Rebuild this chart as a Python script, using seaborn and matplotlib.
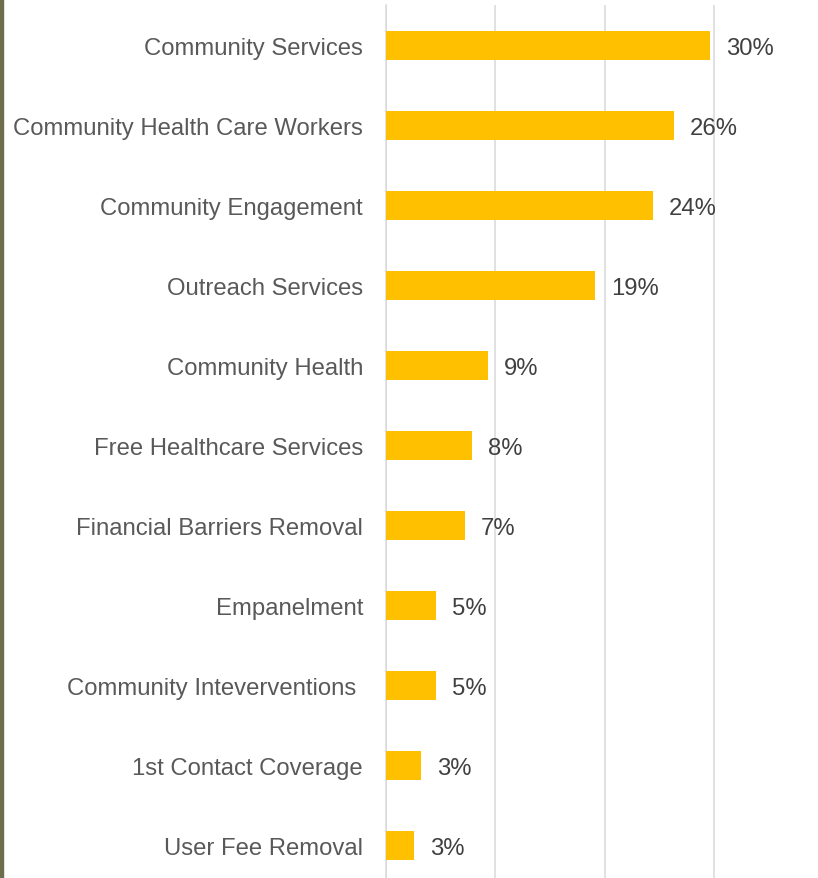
import matplotlib
matplotlib.use("Agg")
import matplotlib.pyplot as plt
from matplotlib.patches import Rectangle
import pandas as pd
import seaborn as sns

# Share of mentions per theme
categories = [
    "Community Services",
    "Community Health Care Workers",
    "Community Engagement",
    "Outreach Services",
    "Community Health",
    "Free Healthcare Services",
    "Financial Barriers Removal",
    "Empanelment",
    "Community Inteverventions ",
    "1st Contact Coverage",
    "User Fee Removal",
]
shares = [0.296, 0.263, 0.244, 0.191, 0.093, 0.079, 0.072, 0.046, 0.046, 0.032, 0.026]
gridline_ticks = [0.0, 0.1, 0.2, 0.3]

df = pd.DataFrame({"theme": categories, "share": shares})

sns.set_theme(style="white")
plt.rcParams["font.family"] = ["Liberation Sans", "DejaVu Sans"]

W, H = 818, 879
fig = plt.figure(figsize=(W / 100, H / 100), dpi=100)
ax = fig.add_axes([385.7 / W, 0.0, 1 - 385.7 / W, (H - 6) / H])

sns.barplot(data=df, y="theme", x="share", orient="h", color="#FFC000",
            saturation=1, width=0.3625, linewidth=0, ax=ax, zorder=3)

ax.set_xlim(0, (W - 385.7) / 1095)
ax.set_ylim(10.406, -0.506)
ax.set_xticks(gridline_ticks)
ax.set_xticklabels([])
ax.tick_params(axis="x", length=0)
ax.tick_params(axis="y", length=0, pad=16.3, labelsize=17.2, labelcolor="#595959")
ax.grid(axis="x", color="#d9d9d9", linewidth=1.1, zorder=0)
ax.grid(axis="y", visible=False)
ax.set_xlabel("")
ax.set_ylabel("")
for side in ("top", "right", "bottom"):
    ax.spines[side].set_visible(False)
ax.spines["left"].set_color("#d9d9d9")
ax.spines["left"].set_linewidth(1.1)

value_texts = ax.bar_label(ax.containers[0], labels=[f"{v:.0%}" for v in shares],
                           padding=11.5, fontsize=17.2, color="#404040")
for t in value_texts:
    t.set_va("center_baseline")

# Olive rule along the left edge
fig.patches.append(Rectangle((0, 0), 3 / W, 1, transform=fig.transFigure,
                             color="#6e6e4e", zorder=5))

fig.savefig("out.png", dpi=100)
